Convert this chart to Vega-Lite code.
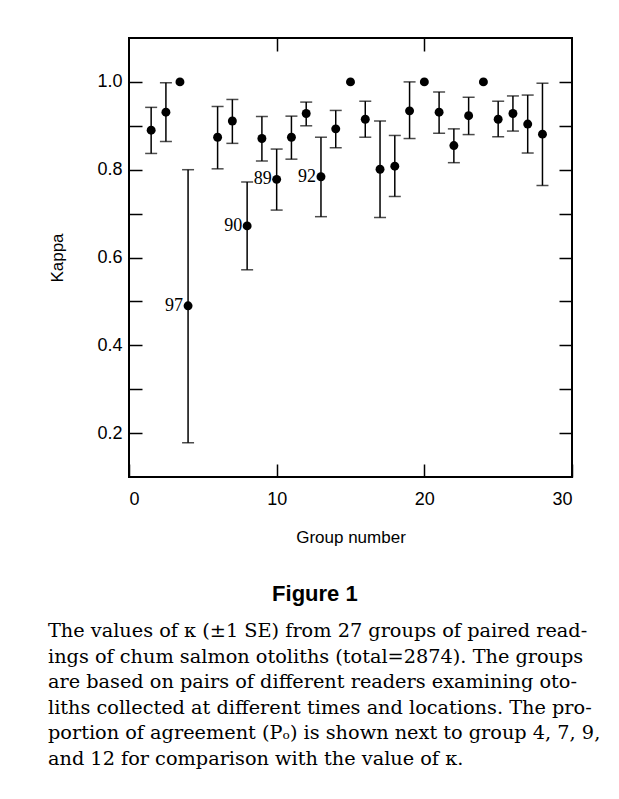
{
  "$schema": "https://vega.github.io/schema/vega-lite/v6.json",
  "background": "white",
  "padding": {"left": 47, "top": 36, "right": 10, "bottom": 10},
  "config": {
    "view": {"stroke": null},
    "font": "Liberation Sans"
  },
  "title": {
    "text": [
      "The values of κ (±1 SE) from 27 groups of paired read-",
      "ings of chum salmon otoliths (total=2874). The groups",
      "are based on pairs of different readers examining oto-",
      "liths collected at different times and locations. The pro-",
      "portion of agreement (Pₒ) is shown next to group 4, 7, 9,",
      "and 12 for comparison with the value of κ."
    ],
    "orient": "bottom",
    "anchor": "start",
    "frame": "bounds",
    "align": "left",
    "baseline": "top",
    "font": "DejaVu Serif",
    "fontSize": 19.3,
    "fontWeight": "normal",
    "lineHeight": 25.5,
    "color": "black",
    "offset": 16
  },
  "vconcat": [
    {
      "width": 443,
      "height": 439,
      "view": {"stroke": "black", "strokeWidth": 2},
      "title": {
        "text": "Figure 1",
        "orient": "bottom",
        "anchor": "middle",
        "frame": "bounds",
        "baseline": "top",
        "dx": 4,
        "font": "Liberation Sans",
        "fontSize": 22,
        "fontWeight": "bold",
        "color": "black",
        "offset": 39
      },
      "data": {
        "values": [
          {"g": 1.5, "k": 0.890, "lo": 0.837, "hi": 0.942, "label": null},
          {"g": 2.5, "k": 0.931, "lo": 0.864, "hi": 0.998, "label": null},
          {"g": 3.45, "k": 1.0, "lo": null, "hi": null, "label": null},
          {"g": 4, "k": 0.490, "lo": 0.178, "hi": 0.800, "label": "97"},
          {"g": 6, "k": 0.874, "lo": 0.802, "hi": 0.944, "label": null},
          {"g": 7, "k": 0.911, "lo": 0.860, "hi": 0.960, "label": null},
          {"g": 8, "k": 0.672, "lo": 0.572, "hi": 0.772, "label": "90"},
          {"g": 9, "k": 0.871, "lo": 0.820, "hi": 0.921, "label": null},
          {"g": 10, "k": 0.778, "lo": 0.708, "hi": 0.847, "label": "89"},
          {"g": 11, "k": 0.874, "lo": 0.824, "hi": 0.922, "label": null},
          {"g": 12, "k": 0.928, "lo": 0.900, "hi": 0.954, "label": null},
          {"g": 13, "k": 0.784, "lo": 0.693, "hi": 0.874, "label": "92"},
          {"g": 14, "k": 0.893, "lo": 0.850, "hi": 0.935, "label": null},
          {"g": 15, "k": 1.0, "lo": null, "hi": null, "label": null},
          {"g": 16, "k": 0.915, "lo": 0.874, "hi": 0.956, "label": null},
          {"g": 17, "k": 0.801, "lo": 0.691, "hi": 0.911, "label": null},
          {"g": 18, "k": 0.808, "lo": 0.739, "hi": 0.878, "label": null},
          {"g": 19, "k": 0.934, "lo": 0.871, "hi": 1.0, "label": null},
          {"g": 20, "k": 1.0, "lo": null, "hi": null, "label": null},
          {"g": 21, "k": 0.931, "lo": 0.883, "hi": 0.977, "label": null},
          {"g": 22, "k": 0.855, "lo": 0.816, "hi": 0.893, "label": null},
          {"g": 23, "k": 0.923, "lo": 0.880, "hi": 0.965, "label": null},
          {"g": 24, "k": 1.0, "lo": null, "hi": null, "label": null},
          {"g": 25, "k": 0.915, "lo": 0.875, "hi": 0.956, "label": null},
          {"g": 26, "k": 0.928, "lo": 0.888, "hi": 0.968, "label": null},
          {"g": 27, "k": 0.904, "lo": 0.838, "hi": 0.970, "label": null},
          {"g": 28, "k": 0.881, "lo": 0.764, "hi": 0.997, "label": null}
        ]
      },
      "layer": [
        {
          "transform": [{"filter": "isValid(datum.lo)"}],
          "mark": {"type": "errorbar", "ticks": true, "size": 12, "thickness": 1.5, "color": "black"},
          "encoding": {
            "x": {"field": "g", "type": "quantitative", "axis": null},
            "y": {"field": "lo", "type": "quantitative", "axis": null},
            "y2": {"field": "hi"}
          }
        },
        {
          "mark": {"type": "point", "filled": true, "size": 80, "color": "black", "opacity": 1, "strokeWidth": 0},
          "encoding": {
            "x": {
              "field": "g", "type": "quantitative",
              "scale": {"domain": [0, 30], "nice": false, "zero": false},
              "axis": {
                "orient": "bottom",
                "values": [0, 10, 20, 30],
                "format": "d",
                "domain": false, "grid": false,
                "tickSize": -13, "tickWidth": 1.5, "tickColor": "black",
                "labelPadding": 26, "labelFontSize": 18, "labelColor": "black", "labelFont": "Liberation Sans",
                "title": "Group number", "titleFontSize": 17, "titleFontWeight": "normal", "titleColor": "black",
                "titleFont": "Liberation Sans", "titlePadding": 21
              }
            },
            "y": {
              "field": "k", "type": "quantitative",
              "scale": {"domain": [0.1, 1.1], "nice": false, "zero": false},
              "axis": {
                "orient": "left",
                "values": [0.2, 0.3, 0.4, 0.5, 0.6, 0.7, 0.8, 0.9, 1.0],
                "labelExpr": "round(datum.value*10) % 2 == 0 ? format(datum.value, '.1f') : ''",
                "domain": false, "grid": false,
                "tickSize": -13, "tickWidth": 1.5, "tickColor": "black",
                "labelPadding": 20, "labelFontSize": 18, "labelColor": "black", "labelFont": "Liberation Sans",
                "title": "Kappa", "titleFontSize": 17, "titleFontWeight": "normal", "titleColor": "black",
                "titleFont": "Liberation Sans", "titlePadding": 30
              }
            }
          }
        },
        {
          "transform": [{"filter": "isValid(datum.label)"}],
          "mark": {"type": "text", "align": "right", "baseline": "middle", "dx": -5, "font": "Liberation Serif", "fontSize": 18, "color": "black"},
          "encoding": {
            "x": {"field": "g", "type": "quantitative", "axis": null},
            "y": {"field": "k", "type": "quantitative", "axis": null},
            "text": {"field": "label"}
          }
        },
        {
          "mark": {"type": "point", "opacity": 0},
          "encoding": {
            "x": {
              "field": "g", "type": "quantitative",
              "axis": {"orient": "top", "values": [10, 20], "labels": false, "domain": false, "grid": false,
                       "tickSize": -13, "tickWidth": 1.5, "tickColor": "black", "title": null}
            },
            "y": {
              "field": "k", "type": "quantitative",
              "axis": {"orient": "right", "values": [0.2, 0.3, 0.4, 0.5, 0.6, 0.7, 0.8, 0.9, 1.0], "labels": false, "domain": false, "grid": false,
                       "tickSize": -13, "tickWidth": 1.5, "tickColor": "black", "title": null}
            }
          }
        }
      ],
      "resolve": {"axis": {"x": "independent", "y": "independent"}}
    }
  ]
}
